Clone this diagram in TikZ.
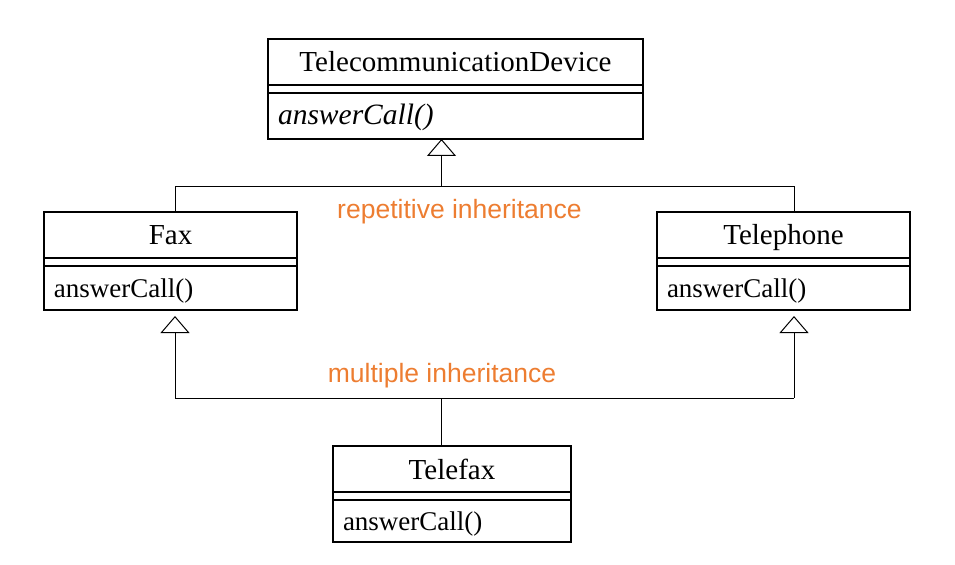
\documentclass[tikz,border=0pt]{standalone}
\usepackage{fontspec}
\setmainfont{Liberation Serif}
\newfontfamily\labelfont{Liberation Sans}
\usetikzlibrary{positioning,arrows.meta}
\definecolor{inhorange}{RGB}{237,125,49}

\begin{document}
\begin{tikzpicture}[x=1bp,y=-1bp,
  classname/.style={draw,line width=1.1bp,outer sep=0pt,inner sep=0pt,minimum height=46bp,text height=21bp,text depth=1bp,font=\fontsize{29bp}{34bp}\selectfont},
  classattr/.style={draw,line width=1.1bp,outer sep=0pt,inner sep=0pt,minimum height=8bp},
  classop/.style={draw,line width=1.1bp,outer sep=0pt,inner xsep=10bp,inner ysep=0pt,minimum height=44bp,text height=21bp,text depth=3bp,align=left,font=\fontsize{27bp}{32bp}\selectfont},
  conn/.style={line width=1bp},
  inherit/.style={line width=1bp,-{Triangle[open,length=17bp,width=29bp]}},
  kind/.style={text=inhorange,font=\labelfont\fontsize{26.5bp}{30bp}\selectfont}]
\useasboundingbox (0,0) rectangle (955,565);

% superclass
\node[classname, minimum width=375bp] (tdname) at (455.5,62) {TelecommunicationDevice};
\node[classattr, minimum width=375bp, below=0pt of tdname] (tdattr) {};
\node[classop, text width=355bp, minimum height=46bp, below=0pt of tdattr] (tdop) {\fontsize{29.5bp}{32bp}\selectfont\itshape answerCall()};

% fax and telephone
\node[classname, minimum width=253bp] (faxname) at (170.5,235) {Fax};
\node[classattr, minimum width=253bp, below=0pt of faxname] (faxattr) {};
\node[classop, text width=233bp, below=0pt of faxattr] (faxop) {answerCall()};

\node[classname, minimum width=253bp] (phonename) at (783.5,235) {Telephone};
\node[classattr, minimum width=253bp, below=0pt of phonename] (phoneattr) {};
\node[classop, text width=233bp, below=0pt of phoneattr] (phoneop) {answerCall()};

% telefax
\node[classname, minimum width=238bp] (telefaxname) at (452,469) {Telefax};
\node[classattr, minimum width=238bp, below=0pt of telefaxname] (telefaxattr) {};
\node[classop, text width=218bp, minimum height=42bp, below=0pt of telefaxattr] (telefaxop) {answerCall()};

% repetitive inheritance
\coordinate (topjoin) at (441.5,187);
\coordinate (faxup) at (175,187);
\coordinate (phoneup) at (794,187);
\draw[conn] (faxname.north -| faxup) -- (faxup) -- (phoneup) -- (phonename.north -| phoneup);
\draw[inherit] (topjoin) -- (tdop.south -| topjoin);
\node[kind] (reptext) at (459.5,212) {repetitive inheritance};

% multiple inheritance
\coordinate (lowjoin) at (441.5,398);
\coordinate (faxdown) at (175,398);
\coordinate (phonedown) at (794,398);
\draw[conn] (faxdown) -- (phonedown);
\draw[conn] (telefaxname.north -| lowjoin) -- (lowjoin);
\draw[inherit, shorten >=6bp] (faxdown) -- (faxop.south -| faxdown);
\draw[inherit, shorten >=6bp] (phonedown) -- (phoneop.south -| phonedown);
\node[kind] (multext) at (442,376) {multiple inheritance};
\end{tikzpicture}
\end{document}
